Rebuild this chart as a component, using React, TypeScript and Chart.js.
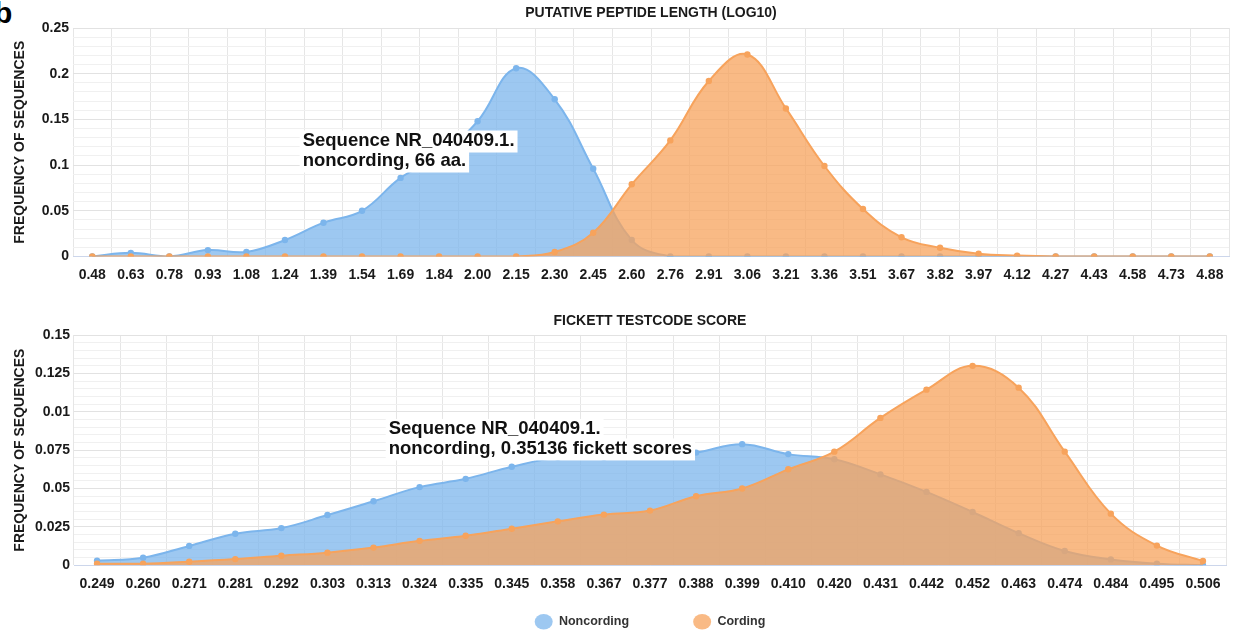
import React, { useEffect, useRef } from 'react';
import { Chart, registerables } from 'chart.js';

Chart.register(...registerables);

const FONT = '"Liberation Sans", Arial, Helvetica, sans-serif';

// ---------- data ----------
const seriesNames = ['Noncording', 'Cording'];

const lengthLabels = ['0.48', '0.63', '0.78', '0.93', '1.08', '1.24', '1.39', '1.54', '1.69', '1.84', '2.00', '2.15', '2.30', '2.45', '2.60', '2.76', '2.91', '3.06', '3.21', '3.36', '3.51', '3.67', '3.82', '3.97', '4.12', '4.27', '4.43', '4.58', '4.73', '4.88'];
const lengthNoncoding = [0, 0.004, 0, 0.007, 0.005, 0.018, 0.037, 0.05, 0.086, 0.11, 0.148, 0.206, 0.172, 0.096, 0.018, 0, 0, 0, 0, 0, 0, 0, 0, 0, 0, 0, 0, 0, 0, 0];
const lengthCording = [0, 0, 0, 0, 0, 0, 0, 0, 0, 0, 0, 0, 0.005, 0.026, 0.079, 0.127, 0.192, 0.221, 0.162, 0.099, 0.052, 0.021, 0.0095, 0.003, 0.001, 0, 0, 0, 0, 0];
const lengthYLabels = ['0', '0.05', '0.1', '0.15', '0.2', '0.25'];

const fickettLabels = ['0.249', '0.260', '0.271', '0.281', '0.292', '0.303', '0.313', '0.324', '0.335', '0.345', '0.358', '0.367', '0.377', '0.388', '0.399', '0.410', '0.420', '0.431', '0.442', '0.452', '0.463', '0.474', '0.484', '0.495', '0.506'];
const fickettNoncoding = [0.003, 0.0049, 0.0126, 0.0205, 0.0242, 0.0327, 0.0417, 0.0509, 0.0563, 0.0642, 0.070, 0.070, 0.071, 0.0734, 0.0789, 0.0724, 0.0691, 0.0592, 0.0478, 0.0347, 0.0209, 0.0093, 0.0038, 0.001, 0];
const fickettCording = [0.001, 0.001, 0.0023, 0.004, 0.0062, 0.0082, 0.0115, 0.0159, 0.0192, 0.0238, 0.0286, 0.033, 0.0356, 0.045, 0.05, 0.0625, 0.074, 0.096, 0.1144, 0.1299, 0.1157, 0.074, 0.0336, 0.0128, 0.0028];
const fickettYLabels = ['0', '0.025', '0.05', '0.075', '0.01', '0.125', '0.15'];

const lengthNote = ['Sequence NR_040409.1.', 'noncording, 66 aa.'];
const fickettNote = ['Sequence NR_040409.1.', 'noncording, 0.35136 fickett scores'];

// ---------- styling ----------
const lineColors = ['#7cb5ec', '#f7a35c'];
const fillColors = ['rgba(124,181,236,0.75)', 'rgba(247,163,92,0.75)'];
const NBSP = '\u00A0';

const notePlugin = {
  id: 'seqNote',
  afterDatasetsDraw(chart: any, _args: any, opts: any) {
    const note = opts && opts.note;
    if (!note) return;
    const { ctx } = chart;
    const x = chart.scales.x.getPixelForValue(note.xIndex);
    const y0 = chart.scales.y.getPixelForValue(note.yValue);
    ctx.save();
    ctx.font = `bold ${note.size}px ${FONT}`;
    ctx.textBaseline = 'middle';
    ctx.textAlign = 'left';
    note.lines.forEach((line: string, i: number) => {
      const y = y0 + i * note.gap;
      const w = ctx.measureText(line).width;
      ctx.fillStyle = '#ffffff';
      ctx.fillRect(x - 3, y - 10, w + 6, 22);
      ctx.fillStyle = '#111111';
      ctx.fillText(line, x, y);
    });
    ctx.restore();
  },
};

function makeConfig(p: any) {
  const isMajor = (v: number) => {
    const k = v / p.majorStep;
    return Math.abs(k - Math.round(k)) < 1e-6;
  };
  return {
    type: 'line',
    data: {
      labels: p.labels,
      datasets: [
        {
          label: seriesNames[0],
          data: p.non,
          borderColor: lineColors[0],
          backgroundColor: fillColors[0],
          pointBackgroundColor: lineColors[0],
          fill: 'origin',
          order: 2,
        },
        {
          label: seriesNames[1],
          data: p.cod,
          borderColor: lineColors[1],
          backgroundColor: fillColors[1],
          pointBackgroundColor: lineColors[1],
          fill: 'origin',
          order: 1,
        },
      ],
    },
    options: {
      responsive: false,
      maintainAspectRatio: false,
      animation: false,
      devicePixelRatio: 1,
      layout: { padding: { left: 0, right: p.padRight, top: 0, bottom: 0 } },
      elements: {
        line: { tension: 0.4, borderWidth: 2 },
        point: { radius: 3.2, borderWidth: 0, hoverRadius: 3.2 },
      },
      plugins: {
        title: {
          display: true,
          text: p.title,
          fullSize: false,
          color: '#1a1a1a',
          font: { family: FONT, size: 14, weight: 'bold' },
          padding: p.titlePad,
        },
        legend: p.legend
          ? {
              display: true,
              position: 'bottom',
              fullSize: false,
              labels: {
                usePointStyle: true,
                pointStyle: 'circle',
                pointStyleWidth: 18,
                boxHeight: 11,
                padding: 12,
                color: '#333',
                font: { family: FONT, size: 12.5, weight: 'bold' },
                sort: (a: any, b: any) => a.datasetIndex - b.datasetIndex,
                generateLabels: (chart: any) => {
                  const items = (Chart as any).defaults.plugins.legend.labels.generateLabels(chart);
                  return items.map((it: any) => ({
                    ...it,
                    text: it.datasetIndex === 0 ? it.text + NBSP.repeat(15) : it.text,
                    fillStyle: fillColors[it.datasetIndex],
                    strokeStyle: 'rgba(0,0,0,0)',
                    lineWidth: 0,
                  }));
                },
              },
            }
          : { display: false },
        tooltip: { enabled: false },
        seqNote: { note: p.note },
      },
      scales: {
        x: {
          type: 'category',
          offset: true,
          grid: { offset: true, color: '#e6e6e6', drawTicks: false },
          border: { display: true, color: '#ccd6eb' },
          ticks: {
            autoSkip: false,
            maxRotation: 0,
            minRotation: 0,
            padding: 10.5,
            color: '#1a1a1a',
            font: { family: FONT, size: 14, weight: 'bold' },
          },
          afterFit: (s: any) => {
            s.height = p.xHeight;
          },
        },
        y: {
          min: 0,
          max: p.yMax,
          afterBuildTicks: (scale: any) => {
            const n = Math.round(p.yMax / p.minorStep);
            scale.ticks = Array.from({ length: n + 1 }, (_, i) => ({ value: +(i * p.minorStep).toFixed(4) }));
          },
          grid: {
            drawTicks: false,
            color: (c: any) => (c.tick && isMajor(c.tick.value) ? '#e2e2e2' : '#f0f0f0'),
          },
          border: { display: false },
          ticks: {
            autoSkip: false,
            padding: 4,
            color: '#1a1a1a',
            font: { family: FONT, size: 14, weight: 'bold' },
            callback: (v: number) => {
              if (!isMajor(v)) return '';
              return p.yLabels[Math.round(v / p.majorStep)] ?? '';
            },
          },
          title: {
            display: true,
            text: 'FREQUENCY OF SEQUENCES',
            color: '#1a1a1a',
            font: { family: FONT, size: 14, weight: 'bold' },
            padding: { top: 11.6, bottom: 0 },
          },
          afterFit: (s: any) => {
            s.width = p.yWidth;
          },
        },
      },
    },
    plugins: [notePlugin],
  };
}

function ChartCanvas({ config, width, height, top }: any) {
  const ref = useRef<HTMLCanvasElement | null>(null);
  useEffect(() => {
    if (!ref.current) return;
    const chart = new Chart(ref.current, config as any);
    return () => chart.destroy();
  }, []);
  return (
    <canvas
      ref={ref}
      width={width}
      height={height}
      style={{ position: 'absolute', left: 0, top, width, height, display: 'block' }}
    />
  );
}

export default function App() {
  const topConfig = makeConfig({
    labels: lengthLabels,
    non: lengthNoncoding,
    cod: lengthCording,
    title: 'PUTATIVE PEPTIDE LENGTH (LOG10)',
    yMax: 0.25,
    minorStep: 0.01,
    majorStep: 0.05,
    yLabels: lengthYLabels,
    note: { lines: lengthNote, xIndex: 5.46, yValue: 0.1269, gap: 20, size: 18.5 },
    legend: false,
    yWidth: 73,
    xHeight: 35.5,
    padRight: 3,
    titlePad: { top: 4.6, bottom: 6.6 },
  });
  const bottomConfig = makeConfig({
    labels: fickettLabels,
    non: fickettNoncoding,
    cod: fickettCording,
    title: 'FICKETT TESTCODE SCORE',
    yMax: 0.15,
    minorStep: 0.005,
    majorStep: 0.025,
    yLabels: fickettYLabels,
    note: { lines: fickettNote, xIndex: 6.33, yValue: 0.0888, gap: 19.5, size: 18.5 },
    legend: true,
    yWidth: 74,
    xHeight: 38.25,
    padRight: 8,
    titlePad: { top: 12.3, bottom: 5.9 },
  });
  return (
    <div
      style={{
        position: 'fixed',
        left: 0,
        top: 0,
        width: 1234,
        height: 632,
        overflow: 'hidden',
        background: '#ffffff',
      }}
    >
      <div
        style={{
          position: 'absolute',
          left: -6,
          top: -2,
          fontFamily: FONT,
          fontWeight: 'bold',
          fontSize: 30,
          lineHeight: '30px',
          color: '#000',
        }}
      >
        b
      </div>
      <ChartCanvas config={topConfig} width={1234} height={292} top={0} />
      <ChartCanvas config={bottomConfig} width={1234} height={338} top={300} />
    </div>
  );
}
